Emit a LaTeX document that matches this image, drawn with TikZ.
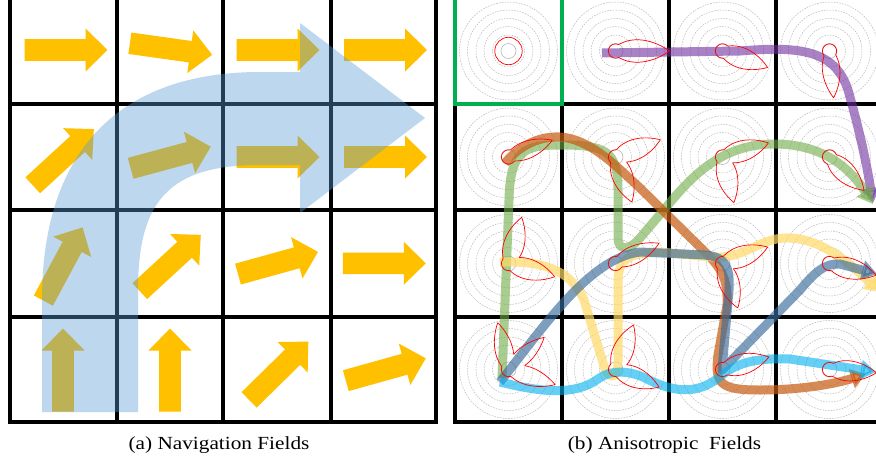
\documentclass[tikz,border=0pt]{standalone}
\usepackage{fontspec}
\setmainfont{Liberation Serif}
\usepackage{graphicx}
\usetikzlibrary{arrows.meta}
\definecolor{arrowyellow}{HTML}{FFC000}
\definecolor{bigblue}{HTML}{5B9BD5}
\definecolor{cellgreen}{HTML}{00B050}
\definecolor{ringgray}{HTML}{B8B8B8}
\definecolor{lobered}{HTML}{FF0000}
\definecolor{trailpurple}{HTML}{7030A0}
\definecolor{trailgreen}{HTML}{70AD47}
\definecolor{trailorange}{HTML}{C55A11}
\definecolor{trailyellow}{HTML}{FFD966}
\definecolor{trailsteel}{HTML}{3A6A9A}
\definecolor{trailcyan}{HTML}{00B0F0}

\newcommand\fieldarrow[3]{\fill[fieldarrow, shift={(#1,#2)}, rotate=#3]
  (-41.5,-10.8) -- (19.5,-10.8) -- (19.5,-21.5) -- (41.5,0) -- (19.5,21.5) -- (19.5,10.8) -- (-41.5,10.8) -- cycle;}
\newcommand\lobeplot[3]{\draw[lobeline, shift={(#1,#2)}]
  plot[domain=0:360, samples=361, variable=\a] (\a:{7+#3}) -- cycle;}

\begin{document}
\begin{tikzpicture}[x=1pt, y=-1pt,
  gridline/.style={line width=3.4pt, black, line cap=rect},
  fieldarrow/.style={fill=arrowyellow},
  ring/.style={draw=ringgray, line width=0.5pt, dash pattern=on 1.6pt off 1.2pt},
  innerring/.style={draw=ringgray, line width=0.6pt},
  lobeline/.style={draw=lobered, line width=0.7pt, line join=round},
  trail/.style={line width=9pt, line join=round},
  trailtip/.style={-{Triangle[length=15pt,width=19pt]}},
  caption/.style={font=\fontsize{18.5}{20}\selectfont, anchor=base, inner sep=0pt},
  declare function={tri(\p,\w)=max(0,1-abs(\p)/\w);
    lobe(\s,\t,\L,\w)=(\L-7)*tri(mod(\s-\t+540,360)-180,\w)*tri(mod(\s-\t+540,360)-180,\w);}
]
\clip (0,0) rectangle (876,461);
\fill[white] (0,0) rectangle (876,461);

% ---------- (a) navigation fields ----------
\foreach \x in {10,117,223,331,436} \draw[gridline] (\x,-6) -- (\x,422);
\foreach \y in {104,210,317,422} \draw[gridline] (10,\y) -- (436,\y);

\fieldarrow{66}{50}{0}
\fieldarrow{171}{49}{-8}
\fieldarrow{278}{50}{0}
\fieldarrow{385.5}{50}{0}
\fieldarrow{63.3}{157.2}{42.6}
\fieldarrow{170.7}{157.5}{15.1}
\fieldarrow{278}{157}{0}
\fieldarrow{385.5}{157}{0}
\fieldarrow{63}{264}{61.8}
\fieldarrow{170.3}{263}{42.7}
\fieldarrow{278}{263}{15.5}
\fieldarrow{384.3}{263.3}{0}
\fieldarrow{63}{370}{90}
\fieldarrow{170}{370}{90}
\fieldarrow{278.7}{370.8}{44.5}
\fieldarrow{385.8}{369.5}{15.6}

\fill[bigblue, opacity=0.4] (42,412) -- (42,300) .. controls (42,150) and (120,72) .. (260,72)
  -- (300,72) -- (300,23) -- (425,118) -- (300,213) -- (300,165) -- (260,165)
  .. controls (170,165) and (138,200) .. (138,290) -- (138,412) -- cycle;

\node[caption] (capA) at (219,449.3) {\scalebox{1.15}[1]{(a) Navigation Fields}};

% ---------- (b) anisotropic fields ----------
\foreach \cx in {508.5,615.5,722.5,829.5}
  \foreach \cy in {51,157,263.5,369.5} {
    \draw[innerring] (\cx,\cy) circle[radius=7.5];
    \foreach \r in {16,24.5,32.5,41,49} \draw[ring] (\cx,\cy) circle[radius=\r];
  }

\foreach \x in {455,562} \draw[gridline] (\x,104) -- (\x,422);
\foreach \x in {669,776} \draw[gridline] (\x,-6) -- (\x,422);
\foreach \y in {104,210,317,422} \draw[gridline] (455,\y) -- (890,\y);
\draw[cellgreen, line width=4pt] (455,-6) -- (455,104) -- (562,104) -- (562,-6);

% trails
\draw[trail, trailpurple, opacity=0.6, trailtip] (602,53) -- (740,51)
  .. controls (800,46) and (835,50) .. (848,90) .. controls (858,125) and (866,160) .. (873,203);
\draw[trail, trailgreen, opacity=0.6, trailtip] (502,378) -- (509,200)
  .. controls (510,150) and (525,145) .. (560,145) .. controls (605,145) and (618,150) .. (618,190)
  -- (618,238) .. controls (618,250) and (628,252) .. (640,238) -- (668,205)
  .. controls (695,172) and (725,144) .. (774,144) .. controls (820,144) and (848,165) .. (873,204);
\draw[trail, trailorange, opacity=0.7, trailtip] (505,163)
  .. controls (520,145) and (540,136) .. (560,137) .. controls (590,139) and (615,165) .. (640,188)
  -- (700,247) .. controls (722,268) and (728,278) .. (727,305) -- (718,355)
  .. controls (714,385) and (722,390) .. (760,390) .. controls (800,390) and (835,384) .. (866,374);
\draw[trail, trailyellow, opacity=0.7, trailtip] (500,262)
  .. controls (540,261) and (570,268) .. (584,300) -- (604,366)
  .. controls (608,380) and (618,380) .. (618,362) -- (618,282)
  .. controls (618,258) and (630,253) .. (660,252) -- (712,257)
  .. controls (745,259) and (758,239) .. (785,238) .. controls (820,237) and (848,262) .. (880,292);
\draw[trail, trailsteel, opacity=0.65, trailtip] (500,382)
  .. controls (545,325) and (590,258) .. (640,252) -- (705,255)
  .. controls (727,257) and (730,268) .. (729,290) -- (722,370) -- (800,290)
  .. controls (815,272) and (825,263) .. (840,264) -- (877,274);
\draw[trail, trailcyan, opacity=0.6, trailtip] (500,382)
  .. controls (540,392) and (575,396) .. (598,379) .. controls (610,370) and (628,370) .. (645,378)
  .. controls (680,396) and (702,392) .. (722,375) .. controls (740,361) and (760,358) .. (790,359)
  -- (876,372);

% lobes
\draw[lobeline] (508.5,51) circle[radius=13.7];
\lobeplot{615.5}{51}{lobe(\a,0,54,70)}
\lobeplot{722.5}{51}{lobe(\a,20,48,70)}
\lobeplot{829.5}{51}{lobe(\a,85,47,60)}
\lobeplot{508.5}{157}{lobe(\a,-21,47,60)}
\lobeplot{615.5}{157}{max(lobe(\a,-21,48,70),lobe(\a,70,48,70))}
\lobeplot{722.5}{157}{max(lobe(\a,-17,48,70),lobe(\a,76,47,70))}
\lobeplot{829.5}{157}{lobe(\a,44,48,70)}
\lobeplot{508.5}{263.5}{max(lobe(\a,-74,48,70),lobe(\a,16,48,70))}
\lobeplot{615.5}{263.5}{lobe(\a,-25,48,60)}
\lobeplot{722.5}{263.5}{max(lobe(\a,-20,48,70),lobe(\a,71,47,70))}
\lobeplot{829.5}{263.5}{lobe(\a,14,48,70)}
\lobeplot{508.5}{369.5}{max(lobe(\a,-103,48,60),lobe(\a,-42,48,55),lobe(\a,18,49,60))}
\lobeplot{615.5}{369.5}{max(lobe(\a,-68,48,70),lobe(\a,22,47,70))}
\lobeplot{722.5}{369.5}{lobe(\a,-15,48,70)}
\lobeplot{829.5}{369.5}{lobe(\a,4,47,70)}

\node[caption] (capB) at (664.5,449.3) {\scalebox{1.15}[1]{(b) Anisotropic\ \ Fields}};
\end{tikzpicture}
\end{document}
